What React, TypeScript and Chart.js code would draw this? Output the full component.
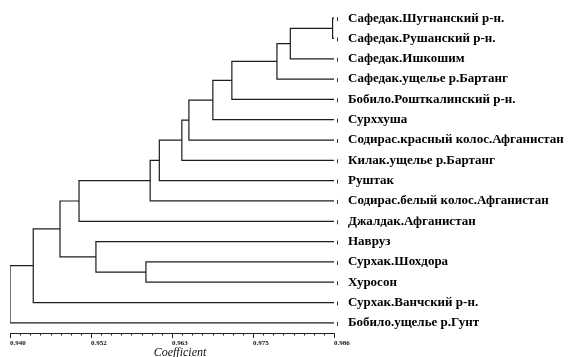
import React, { useEffect, useRef } from "react";
import { Chart, registerables } from "chart.js";

Chart.register(...registerables);

// Leaf labels (top to bottom)
const leaves: string[] = [
  "Сафедак.Шугнанский р-н.",
  "Сафедак.Рушанский р-н.",
  "Сафедак.Ишкошим",
  "Сафедак.ущелье р.Бартанг",
  "Бобило.Рошткалинский р-н.",
  "Сурххуша",
  "Содирас.красный колос.Афганистан",
  "Килак.ущелье р.Бартанг",
  "Руштак",
  "Содирас.белый колос.Афганистан",
  "Джалдак.Афганистан",
  "Навруз",
  "Сурхак.Шохдора",
  "Хуросон",
  "Сурхак.Ванчский р-н.",
  "Бобило.ущелье р.Гунт",
];

// Merges: node ids 0..15 are leaves, each merge creates node 16 + index
const mergeLeft: number[] = [0, 16, 17, 18, 19, 20, 21, 22, 23, 24, 12, 11, 25, 28, 29];
const mergeRight: number[] = [1, 2, 3, 4, 5, 6, 7, 8, 9, 10, 13, 26, 27, 14, 15];
const mergeHeight: number[] = [
  0.9858, 0.9798, 0.9779, 0.9715, 0.9688, 0.9654, 0.9644, 0.9612, 0.9599, 0.9498,
  0.9593, 0.9522, 0.9471, 0.9433, 0.94,
];

// Axis
const axisMin = 0.94;
const axisMax = 0.986;
const majorTicks: number[] = [0.94, 0.9515, 0.963, 0.9745, 0.986];
const tickLabels: string[] = ["0.940", "0.952", "0.963", "0.975", "0.986"];
const minorPerMajor = 8;
const axisTitle = "Coefficient";

const LINE = "#1c1c1c";

function buildDatasets() {
  const nx: number[] = leaves.map(() => axisMax);
  const ny: number[] = leaves.map((_, i) => i);
  mergeHeight.forEach((h, m) => {
    nx.push(h);
    ny.push((ny[mergeLeft[m]] + ny[mergeRight[m]]) / 2);
  });
  return mergeHeight.map((h, m) => {
    const a = mergeLeft[m];
    const b = mergeRight[m];
    return {
      data: [
        { x: nx[a], y: ny[a] },
        { x: h, y: ny[a] },
        { x: h, y: ny[b] },
        { x: nx[b], y: ny[b] },
      ],
      showLine: true,
      borderColor: LINE,
      borderWidth: 1.2,
      pointRadius: 0,
      tension: 0,
    };
  });
}

const decor = {
  id: "decor",
  afterDraw(chart: any) {
    const { ctx, chartArea, scales } = chart;
    const xs = scales.x;
    const ys = scales.y;
    ctx.save();
    ctx.strokeStyle = "#222";
    ctx.lineWidth = 1;
    const base = chartArea.bottom;
    // ruler ticks
    for (let i = 0; i < majorTicks.length - 1; i++) {
      for (let k = 0; k <= minorPerMajor; k++) {
        if (k === minorPerMajor && i < majorTicks.length - 2) continue;
        const v = majorTicks[i] + ((majorTicks[i + 1] - majorTicks[i]) * k) / minorPerMajor;
        const px = Math.round(xs.getPixelForValue(v)) + 0.5;
        const len = k === 0 || k === minorPerMajor ? 5 : 2.5;
        ctx.beginPath();
        ctx.moveTo(px, base);
        ctx.lineTo(px, base + len);
        ctx.stroke();
      }
    }
    // small marks at leaf ends
    ctx.strokeStyle = "#333";
    leaves.forEach((_, i) => {
      const py = ys.getPixelForValue(i);
      const px = Math.round(xs.right) + 3.5;
      ctx.beginPath();
      ctx.moveTo(px, py - 1);
      ctx.lineTo(px, py + 3);
      ctx.stroke();
    });
    // axis title
    ctx.fillStyle = "#111";
    ctx.font = "italic 12px 'Liberation Serif'";
    ctx.textAlign = "center";
    ctx.textBaseline = "middle";
    ctx.fillText(axisTitle, (xs.left + xs.right) / 2 + 8, base + 20);
    ctx.restore();
  },
};

export default function App() {
  const ref = useRef<HTMLCanvasElement | null>(null);
  useEffect(() => {
    if (!ref.current) return;
    const chart = new Chart(ref.current, {
      type: "scatter",
      data: { datasets: buildDatasets() as any },
      options: {
        animation: false,
        responsive: false,
        maintainAspectRatio: false,
        layout: { padding: { left: 10, top: 8, right: 0, bottom: 0 } },
        plugins: { legend: { display: false }, tooltip: { enabled: false } },
        scales: {
          x: {
            type: "linear",
            position: "bottom",
            min: axisMin,
            max: axisMax,
            afterBuildTicks: (s: any) => {
              s.ticks = majorTicks.map((v) => ({ value: v }));
            },
            afterFit: (s: any) => {
              s.height = 24;
            },
            grid: { display: false, drawTicks: false },
            border: { display: true, color: "#222", width: 1 },
            ticks: {
              align: "start",
              padding: 6,
              color: "#111",
              autoSkip: false,
              maxRotation: 0,
              font: { family: "'Liberation Serif'", size: 7, weight: "bold" },
              callback: (_v: any, i: number) => tickLabels[i],
            },
          },
          y: {
            type: "linear",
            position: "right",
            reverse: true,
            min: -0.5,
            max: leaves.length - 0.5,
            afterBuildTicks: (s: any) => {
              s.ticks = leaves.map((_, i) => ({ value: i }));
            },
            afterFit: (s: any) => {
              s.width = 238;
            },
            grid: { display: false, drawTicks: true, tickLength: 14 },
            border: { display: false },
            ticks: {
              padding: 0,
              color: "#000",
              autoSkip: false,
              font: { family: "'Liberation Serif'", size: 13, weight: "bold" },
              callback: (_v: any, i: number) => leaves[i],
            },
          },
        },
      } as any,
      plugins: [decor],
    });
    return () => chart.destroy();
  }, []);
  return (
    <div style={{ position: "fixed", left: 0, top: 0, width: 572, height: 357, background: "#fff" }}>
      <canvas ref={ref} width={572} height={357} style={{ width: 572, height: 357, display: "block" }} />
    </div>
  );
}
